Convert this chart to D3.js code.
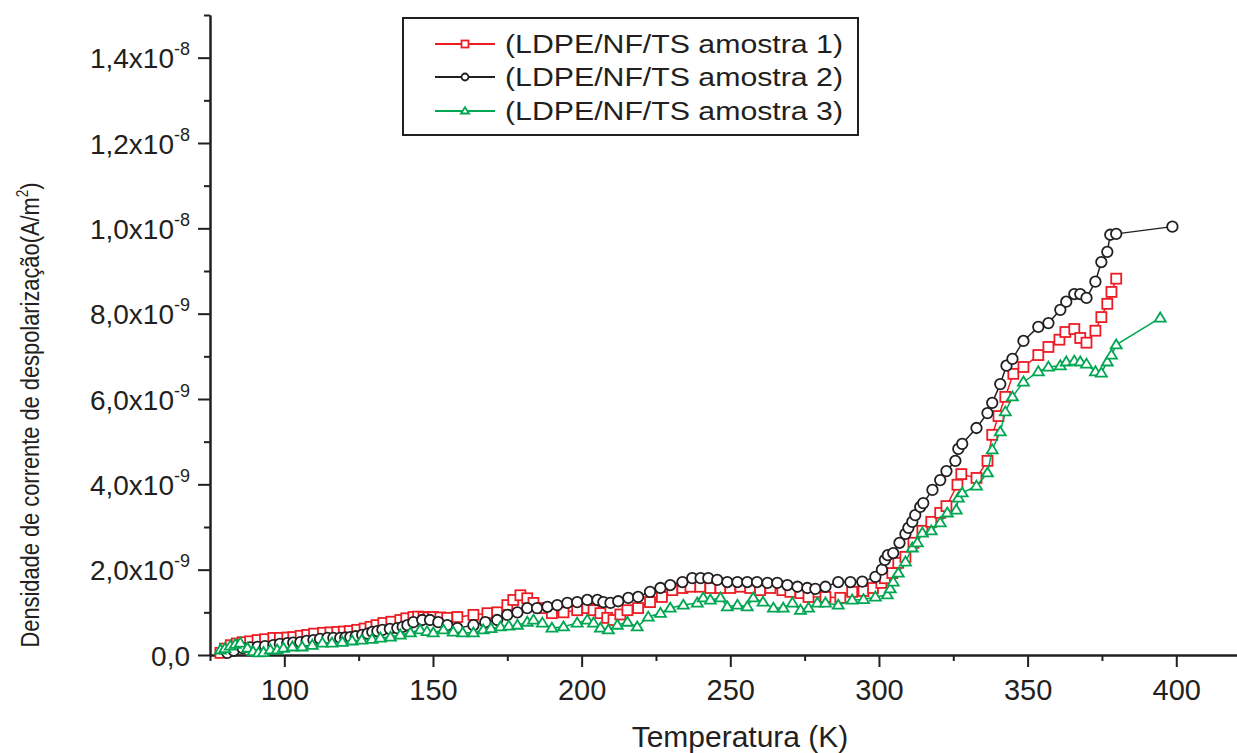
<!DOCTYPE html>
<html>
<head>
<meta charset="utf-8">
<script src="https://cdn.jsdelivr.net/npm/d3@7"></script>
<style>
  body { margin: 0; background: #fff; }
  svg { display: block; font-family: "Liberation Sans", Arial, sans-serif; }
  .axis path, .axis line { stroke: #231f20; stroke-width: 2; }
</style>
</head>
<body>
<svg id="chart" width="1237" height="753"></svg>
<script>
// temperature (K) and depolarization current density (x1e-9 A/m2)
const tempS1 = [78.5, 80, 82, 84, 86, 88.5, 91, 93.5, 96.3, 98.5, 101, 103, 105.5, 107.7, 110, 113, 115.5, 117.8, 120, 122, 124.5, 127, 129, 131, 133.3, 136, 139, 141, 143.4, 145, 146.8, 148.5, 150, 152.5, 154.8, 158.2, 163.6, 168.3, 171.6, 175, 177, 179.4, 181.7, 183.8, 186.8, 190, 193.9, 198.5, 201.9, 204, 206.3, 208.6, 210.7, 213, 215.4, 219, 223, 227, 230.5, 233.9, 236.6, 239.9, 243.3, 246.7, 250, 253.4, 256.7, 260, 263.5, 267.5, 270.2, 273.6, 276.3, 282, 287, 291, 294.8, 298, 300.8, 302, 304.5, 306.5, 308.9, 311.6, 314.6, 317.6, 320.6, 322.7, 326.4, 327.7, 332.8, 336.5, 338.1, 340.2, 342.5, 345.2, 348.6, 353.6, 357, 360.7, 362.7, 365.7, 367.7, 369.8, 372.8, 374.8, 376.8, 378.2, 379.8];
const densS1 = [0.05, 0.15, 0.23, 0.27, 0.3, 0.32, 0.35, 0.37, 0.4, 0.4, 0.41, 0.42, 0.45, 0.47, 0.5, 0.52, 0.53, 0.54, 0.55, 0.56, 0.59, 0.62, 0.66, 0.7, 0.75, 0.78, 0.82, 0.86, 0.89, 0.9, 0.89, 0.88, 0.89, 0.88, 0.87, 0.89, 0.94, 0.98, 1.0, 1.17, 1.29, 1.4, 1.33, 1.22, 1.1, 0.98, 1.0, 1.05, 1.1, 1.05, 0.98, 0.87, 0.82, 0.95, 1.05, 1.1, 1.24, 1.36, 1.52, 1.57, 1.6, 1.6, 1.57, 1.57, 1.57, 1.6, 1.57, 1.52, 1.57, 1.52, 1.48, 1.45, 1.36, 1.36, 1.34, 1.48, 1.5, 1.57, 1.69, 1.8, 1.92, 2.16, 2.3, 2.63, 2.91, 3.12, 3.33, 3.49, 3.99, 4.24, 4.15, 4.55, 5.16, 5.6, 6.05, 6.59, 6.75, 7.03, 7.22, 7.39, 7.57, 7.64, 7.43, 7.32, 7.6, 7.92, 8.23, 8.51, 8.82];

const tempS2 = [80.8, 83, 86, 88.5, 91, 93.5, 96.3, 98.5, 101, 103, 105.4, 107.5, 109.8, 112, 114.5, 116.5, 118.8, 120.5, 122.2, 124, 126.2, 128, 129.6, 131.3, 133, 135.5, 138, 139.8, 141.4, 143.4, 146.4, 149, 151.8, 154.8, 158.2, 163.6, 167.6, 171.6, 175, 178.4, 181.7, 185, 188.5, 191.8, 195.2, 198.5, 201.9, 205.3, 207.3, 209.7, 212.3, 215.7, 219, 223, 226.5, 229.8, 233.9, 237.2, 240, 242.6, 245.6, 249, 252.4, 255.7, 259, 262.5, 265.8, 269.2, 272.6, 275.9, 278.6, 282, 286.3, 290.4, 294.4, 298.8, 301, 302, 303, 304.8, 306.9, 308.9, 309.9, 311.2, 312.2, 313.9, 314.9, 318, 320.6, 322.7, 325.7, 326.7, 328, 332.8, 336.5, 338.1, 340.8, 342.9, 344.9, 348.6, 353.6, 357, 361, 363, 365.7, 367.7, 369.8, 372.8, 374.8, 376.8, 377.8, 379.8, 398.7];
const densS2 = [0.05, 0.1, 0.16, 0.18, 0.19, 0.21, 0.23, 0.26, 0.28, 0.29, 0.3, 0.33, 0.35, 0.38, 0.4, 0.4, 0.4, 0.41, 0.42, 0.44, 0.47, 0.5, 0.54, 0.56, 0.59, 0.61, 0.63, 0.66, 0.7, 0.77, 0.82, 0.82, 0.77, 0.7, 0.63, 0.7, 0.77, 0.82, 0.94, 1.0, 1.1, 1.1, 1.13, 1.17, 1.22, 1.24, 1.29, 1.29, 1.24, 1.22, 1.26, 1.34, 1.36, 1.48, 1.57, 1.64, 1.71, 1.8, 1.8, 1.8, 1.76, 1.71, 1.71, 1.71, 1.71, 1.69, 1.69, 1.64, 1.6, 1.57, 1.55, 1.6, 1.71, 1.71, 1.72, 1.83, 2.0, 2.23, 2.34, 2.39, 2.63, 2.84, 2.98, 3.12, 3.28, 3.47, 3.56, 3.87, 4.1, 4.31, 4.55, 4.83, 4.95, 5.32, 5.67, 5.91, 6.35, 6.78, 6.94, 7.36, 7.69, 7.78, 8.09, 8.28, 8.46, 8.46, 8.37, 8.75, 9.21, 9.45, 9.85, 9.87, 10.04];

const tempS3 = [78.5, 80, 81.8, 83.5, 85.2, 87.6, 89.5, 91.3, 93, 95.3, 97.6, 99.7, 102.7, 106, 109.4, 112.8, 116, 119.5, 122.8, 126, 129.5, 132.3, 135.7, 139, 142.4, 145.7, 148, 150.1, 153.5, 156.8, 160, 163.6, 166.9, 169.5, 172.7, 175.5, 178.4, 181.7, 183.8, 186.8, 190, 193.9, 198.5, 201.9, 204, 206.3, 209, 212, 215.4, 218.7, 222.4, 226.5, 229.8, 234.2, 238.9, 240.9, 243.3, 246.7, 249, 252.4, 255.7, 257.7, 261, 264.5, 267.8, 270.9, 273.6, 276.3, 279.3, 282, 286.3, 291, 294.8, 298.8, 302.8, 303.8, 304.8, 306.5, 308.9, 311.2, 312.9, 314.6, 317.6, 320.6, 323, 326, 326.7, 328, 332.8, 336.5, 338.1, 340.8, 342.5, 344.9, 348.6, 353.6, 357, 361, 363, 365.7, 367.7, 369.8, 372.8, 374.8, 376.8, 378.2, 379.8, 394.6];
const densS3 = [0.12, 0.15, 0.21, 0.25, 0.28, 0.16, 0.08, 0.05, 0.06, 0.12, 0.12, 0.16, 0.19, 0.19, 0.23, 0.28, 0.28, 0.3, 0.33, 0.35, 0.37, 0.4, 0.42, 0.47, 0.52, 0.59, 0.55, 0.52, 0.59, 0.54, 0.52, 0.52, 0.59, 0.62, 0.66, 0.68, 0.7, 0.77, 0.82, 0.75, 0.63, 0.66, 0.75, 0.82, 0.75, 0.63, 0.59, 0.7, 0.77, 0.66, 0.89, 0.98, 1.1, 1.17, 1.22, 1.34, 1.29, 1.34, 1.13, 1.17, 1.13, 1.34, 1.24, 1.1, 1.1, 1.22, 1.05, 1.1, 1.22, 1.22, 1.17, 1.29, 1.3, 1.36, 1.41, 1.55, 1.71, 1.92, 2.18, 2.51, 2.63, 2.86, 2.91, 3.1, 3.33, 3.4, 3.68, 3.8, 3.96, 4.27, 4.81, 5.23, 5.7, 6.05, 6.4, 6.64, 6.75, 6.78, 6.87, 6.89, 6.87, 6.82, 6.64, 6.61, 6.87, 7.03, 7.27, 7.9];

const seriesNames = ["(LDPE/NF/TS amostra 1)", "(LDPE/NF/TS amostra 2)", "(LDPE/NF/TS amostra 3)"];
const seriesColors = ["#ed1c24", "#231f20", "#00a651"];
const seriesShapes = ["square", "circle", "triangle"];

const xMajor = [100, 150, 200, 250, 300, 350, 400];
const xMinor = [75, 125, 175, 225, 275, 325, 375, 425];
const yMajor = [0, 2, 4, 6, 8, 10, 12, 14];
const yMinor = [1, 3, 5, 7, 9, 11, 13, 15];
const yTickLabels = ["0,0", "2,0x10|-9", "4,0x10|-9", "6,0x10|-9", "8,0x10|-9", "1,0x10|-8", "1,2x10|-8", "1,4x10|-8"];

const svg = d3.select("#chart");

const x = d3.scaleLinear().domain([75, 425]).range([210, 1250.6]);
const y = d3.scaleLinear().domain([0, 15]).range([655, 15]);

// axes
svg.append("g").attr("class", "axis").attr("transform", "translate(0,655)")
  .call(d3.axisBottom(x).tickValues(xMinor).tickSize(6).tickSizeOuter(0).tickFormat(""));
const xAx = svg.append("g").attr("class", "axis").attr("transform", "translate(0,655)")
  .call(d3.axisBottom(x).tickValues(xMajor).tickSize(12).tickSizeOuter(0));
xAx.selectAll("text").attr("font-size", 29).attr("fill", "#231f20").attr("dy", null).attr("y", 45);

svg.append("g").attr("class", "axis").attr("transform", "translate(210,0)")
  .call(d3.axisLeft(y).tickValues(yMinor).tickSize(6).tickSizeOuter(0).tickFormat(""));
const yAx = svg.append("g").attr("class", "axis").attr("transform", "translate(210,0)")
  .call(d3.axisLeft(y).tickValues(yMajor).tickSize(12).tickSizeOuter(0).tickFormat(""));
yAx.selectAll(".tick").each(function(d, i) {
  const parts = yTickLabels[i].split("|");
  const t = d3.select(this).append("text")
    .attr("x", -20).attr("y", 10).attr("text-anchor", "end")
    .attr("font-size", 28).attr("fill", "#231f20");
  t.append("tspan").text(parts[0]);
  if (parts[1]) t.append("tspan").attr("font-size", 18).attr("dy", -13).text(parts[1]);
});

// axis titles
svg.append("text").attr("x", 740).attr("y", 747).attr("text-anchor", "middle")
  .attr("font-size", 30).attr("fill", "#231f20").text("Temperatura (K)");
const yTitle = svg.append("text").attr("transform", "translate(39,415) rotate(-90) scale(0.84,1)")
  .attr("text-anchor", "middle").attr("font-size", 26).attr("fill", "#231f20");
yTitle.append("tspan").text("Densidade de corrente de despolarização(A/m");
yTitle.append("tspan").attr("font-size", 16).attr("dy", -11).text("2");
yTitle.append("tspan").attr("dy", 11).text(")");

function drawMarker(g, shape, color, s) {
  if (shape === "square") {
    g.append("rect").attr("x", -s / 2).attr("y", -s / 2).attr("width", s).attr("height", s)
      .attr("fill", "#fff").attr("stroke", color).attr("stroke-width", 1.8);
  } else if (shape === "circle") {
    g.append("circle").attr("r", s / 2).attr("fill", "#fff").attr("stroke", color).attr("stroke-width", 1.8);
  } else {
    const h = s * 0.9;
    g.append("path").attr("d", `M0,${-h * 0.6}L${s / 2 + 0.5},${h * 0.4}L${-s / 2 - 0.5},${h * 0.4}Z`)
      .attr("fill", "#fff").attr("stroke", color).attr("stroke-width", 1.8);
  }
}

const allTemps = [tempS1, tempS2, tempS3];
const allDens = [densS1, densS2, densS3];

allTemps.forEach((temps, k) => {
  const pts = temps.map((t, i) => [t, allDens[k][i]]);
  svg.append("path").datum(pts)
    .attr("fill", "none").attr("stroke", seriesColors[k]).attr("stroke-width", 1.5)
    .attr("d", d3.line().x(d => x(d[0])).y(d => y(d[1])));
  pts.forEach(d => {
    const g = svg.append("g").attr("transform", `translate(${x(d[0])},${y(d[1])})`);
    drawMarker(g, seriesShapes[k], seriesColors[k], k === 1 ? 10.5 : 10);
  });
});

// legend
const leg = svg.append("g");
leg.append("rect").attr("x", 403).attr("y", 18).attr("width", 455).attr("height", 117)
  .attr("fill", "#fff").attr("stroke", "#231f20").attr("stroke-width", 2);
const legRows = [44, 77, 111];
seriesNames.forEach((name, k) => {
  const ly = legRows[k];
  leg.append("line").attr("x1", 435).attr("x2", 495).attr("y1", ly).attr("y2", ly)
    .attr("stroke", seriesColors[k]).attr("stroke-width", 2);
  const g = leg.append("g").attr("transform", `translate(465,${ly})`);
  drawMarker(g, seriesShapes[k], seriesColors[k], 7);
  leg.append("text").attr("x", 505).attr("y", ly + 9).attr("font-size", 26)
    .attr("textLength", 338).attr("lengthAdjust", "spacingAndGlyphs")
    .attr("fill", "#231f20").text(name);
});
</script>
</body>
</html>
